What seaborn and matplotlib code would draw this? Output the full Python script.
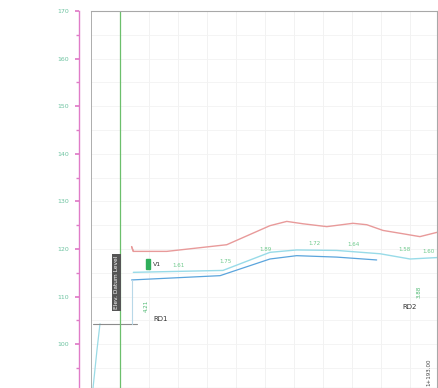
import matplotlib
matplotlib.use("Agg")
import matplotlib.pyplot as plt
import numpy as np
import pandas as pd
import seaborn as sns

sns.set_theme(style="white")
plt.rcParams["font.family"] = ["DejaVu Sans"]

# Elevation axis ticks
y_ticks = [100, 110, 120, 130, 140, 150, 160, 170]

# Hydraulic grade line (upper, red)
hgl_x = [140, 146, 261, 468, 617, 675, 731, 813, 903, 951, 1007, 1076, 1134, 1193]
hgl_y = [120.5, 119.5, 119.5, 120.9, 124.9, 125.8, 125.3, 124.7, 125.4, 125.1, 123.9, 123.2, 122.6, 123.5]

# Energy line (light cyan)
egl_x = [146, 455, 617, 709, 847, 997, 1100, 1193]
egl_y = [115.1, 115.5, 119.3, 119.8, 119.7, 119.0, 117.9, 118.2]

# Pipe crown (blue)
pipe_x = [140, 445, 617, 709, 847, 985]
pipe_y = [113.5, 114.4, 117.9, 118.6, 118.3, 117.7]

# Inlet drop and datum
inlet_x = [31, 21, 7]
inlet_y = [104.3, 99.0, 90.8]
datum_x = [7, 159]
datum_y = [104.3, 104.3]

# Velocity labels along the profile
vel_x = [300, 465, 600, 770, 905, 1080, 1165]
vel_y = [116.6, 117.4, 119.9, 121.2, 121.0, 120.0, 119.4]
vel_txt = ["1.61", "1.75", "1.89", "1.72", "1.64", "1.58", "1.60"]

fig = plt.figure(figsize=(4.38, 3.88), dpi=100)
W, H = 438, 388
ax = fig.add_axes([91 / W, 0, (437 - 91) / W, (388 - 11) / H])
ax.set_xlim(0, 1193)
ax.set_ylim(90.8, 170)

# light grid
for gx in np.arange(100, 1200, 100):
    ax.axvline(gx, color="#f0f0f0", lw=0.6, zorder=0)
for gy in np.arange(95, 170, 5):
    ax.axhline(gy, color="#f3f3f3", lw=0.6, zorder=0)

sns.lineplot(x=hgl_x, y=hgl_y, ax=ax, color="#e89a9a", lw=1.0, sort=False, estimator=None)
sns.lineplot(x=egl_x, y=egl_y, ax=ax, color="#98dbe8", lw=1.0, sort=False, estimator=None)
sns.lineplot(x=pipe_x, y=pipe_y, ax=ax, color="#5aa4dc", lw=0.9, sort=False, estimator=None)
sns.lineplot(x=inlet_x, y=inlet_y, ax=ax, color="#9adbe6", lw=0.9, sort=False, estimator=None)
sns.lineplot(x=datum_x, y=datum_y, ax=ax, color="#8c8c8c", lw=0.8, sort=False, estimator=None)
ax.plot([140, 140], [104.3, pipe_y[0]], color="#b8d8e8", lw=0.8)
ax.plot([140, 146], [hgl_y[0], hgl_y[1]], color="#e89a9a", lw=1.0)

# reference line
ax.axvline(100, color="#6cbf6c", lw=0.9)

# spines: gray frame on the plot, magenta elevation axis offset left
for s in ["top", "right", "bottom"]:
    ax.spines[s].set_color("#a8a8a8")
    ax.spines[s].set_linewidth(0.8)
ax.axvline(0, color="#a0a0a0", lw=1.2)
ax.spines["left"].set_position(("outward", 8.6))
ax.spines["left"].set_color("#e07cc8")
ax.spines["left"].set_linewidth(1.0)
ax.set_yticks(y_ticks)
ax.set_yticks(np.arange(95, 170, 10), minor=True)
ax.tick_params(axis="y", which="major", labelsize=4.5, labelcolor="#6cc3a0",
               length=3, color="#e07cc8", pad=4, left=True)
ax.tick_params(axis="y", which="minor", length=2, color="#e07cc8", left=True)
ax.set_xticks([])

# annotations
ax.text(88, 113.0, "Elev. Datum Level", rotation=90, fontsize=4.2, color="white",
        ha="center", va="center",
        bbox=dict(boxstyle="square,pad=0.3", fc="#555555", ec="none"))
ax.add_patch(plt.Rectangle((188, 115.8), 16, 2.0, color="#2fae5a", zorder=3))
ax.text(215, 116.7, "V1", fontsize=4.5, color="#333333", va="center")
ax.text(192, 108.0, "4.21", rotation=90, fontsize=4, color="#4cb870", ha="center", va="center")
ax.text(215, 105.2, "RD1", fontsize=5, color="#333333", va="center")
ax.text(1073, 107.9, "RD2", fontsize=5, color="#333333", va="center")
ax.text(1130, 111.0, "3.88", rotation=90, fontsize=4, color="#4cb870", ha="center", va="center")
ax.text(1165, 91.2, "1+193.00", rotation=90, fontsize=4, color="#444444",
        ha="center", va="bottom")
for vx, vy, vt in zip(vel_x, vel_y, vel_txt):
    ax.text(vx, vy, vt, fontsize=4, color="#6cc98a", ha="center", va="center")

fig.savefig("out.png", dpi=100)
